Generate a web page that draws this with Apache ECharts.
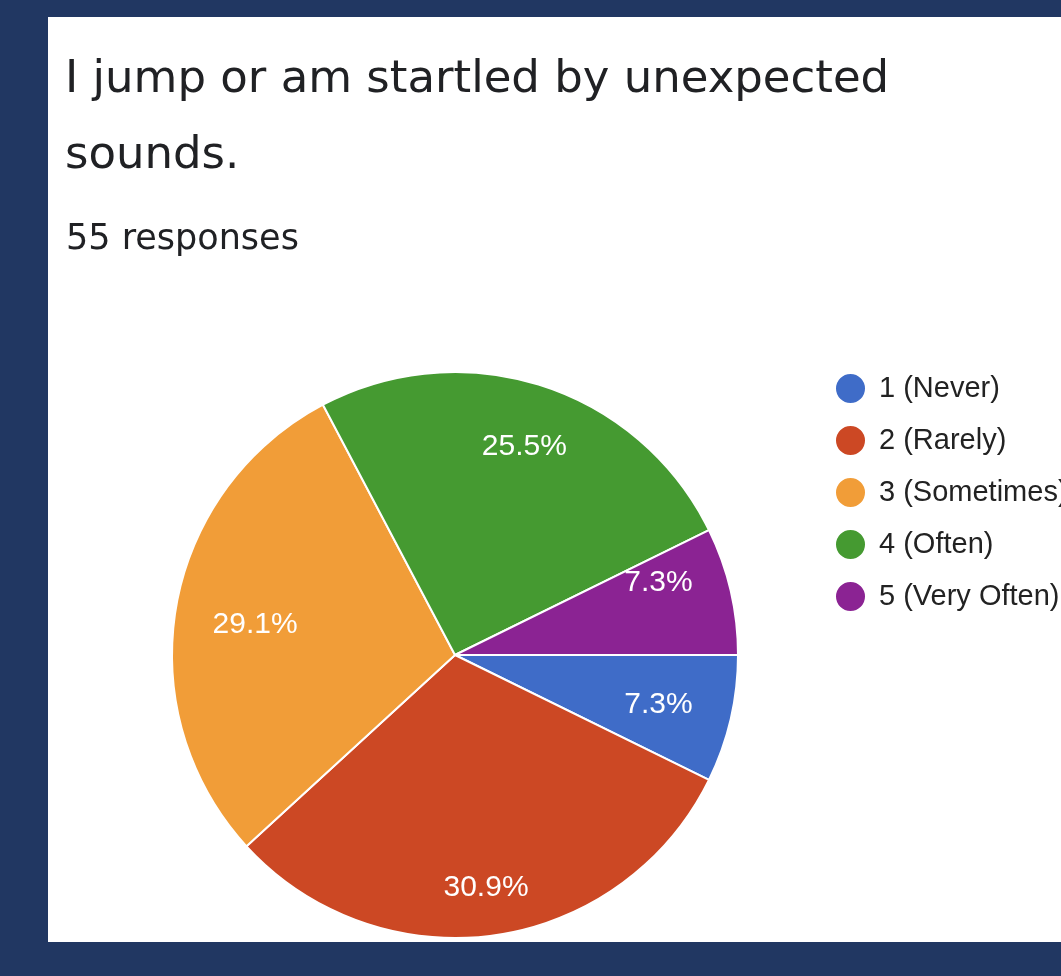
<!DOCTYPE html>
<html>
<head>
<meta charset="utf-8">
<script src="https://cdn.jsdelivr.net/npm/echarts@6/dist/echarts.min.js"></script>
<style>
  html, body { margin: 0; padding: 0; background: #213762; }
  #chart { width: 1061px; height: 976px; }
</style>
</head>
<body>
<div id="chart"></div>
<script>
// Survey answers: "I jump or am startled by unexpected sounds." (55 responses)
const categories = ['1 (Never)', '2 (Rarely)', '3 (Sometimes)', '4 (Often)', '5 (Very Often)'];
const counts = [4, 17, 16, 14, 4];
const sliceColors = ['#3f6cc8', '#cc4824', '#f19d38', '#459a31', '#8b2393'];
// small per-slice nudges for the percentage labels [dx, dy]
const labelNudge = [[-9, 0], [0, 17], [15, 7], [2, -1], [-9, -23]];

const total = counts.reduce((a, b) => a + b, 0);
const CX = 455, CY = 655, R = 283;

const chart = echarts.init(document.getElementById('chart'), null, { renderer: 'canvas' });

const sliceData = categories.map((name, i) => ({
  name, value: counts[i], itemStyle: { color: sliceColors[i] }
}));

const labelData = categories.map((name, i) => ({
  name, value: counts[i],
  label: { offset: labelNudge[i] }
}));

chart.setOption({
  backgroundColor: '#213762',
  animation: false,
  graphic: [{
    type: 'rect', z: -10, silent: true,
    shape: { x: 48, y: 17, width: 1100, height: 925 },
    style: { fill: '#ffffff' }
  }],
  title: [{
    text: 'I jump or am startled by unexpected\nsounds.',
    left: 60, top: 37,
    textStyle: { fontFamily: 'DejaVu Sans', fontWeight: 'normal', fontSize: 45, color: '#202124', lineHeight: 76 }
  }, {
    text: total + ' responses',
    left: 61, top: 217,
    textStyle: { fontFamily: 'DejaVu Sans', fontWeight: 'normal', fontSize: 35, color: '#202124' }
  }],
  legend: {
    orient: 'vertical',
    left: 829, top: 367,
    icon: 'circle',
    itemWidth: 31, itemHeight: 31, itemGap: 19,
    data: categories,
    textStyle: { fontFamily: 'Liberation Sans', fontSize: 29, color: '#222222', padding: [0, 0, 0, 8] }
  },
  series: [{
    type: 'pie',
    name: 'slices',
    center: [CX, CY],
    radius: [0, R],
    startAngle: 0,
    clockwise: true,
    label: { show: false },
    labelLine: { show: false },
    itemStyle: { borderColor: '#ffffff', borderWidth: 2 },
    emphasis: { disabled: true },
    data: sliceData
  }, {
    // transparent ring that carries the percentage labels
    type: 'pie',
    name: 'labels',
    center: [CX, CY],
    radius: [R * 0.52, R],
    startAngle: 0,
    clockwise: true,
    silent: true,
    legendHoverLink: false,
    itemStyle: { color: 'transparent', borderWidth: 0 },
    label: {
      show: true, position: 'inside',
      fontFamily: 'Liberation Sans', fontSize: 30, color: '#ffffff',
      formatter: p => (p.value / total * 100).toFixed(1) + '%'
    },
    labelLine: { show: false },
    emphasis: { disabled: true },
    data: labelData
  }]
});
</script>
</body>
</html>
